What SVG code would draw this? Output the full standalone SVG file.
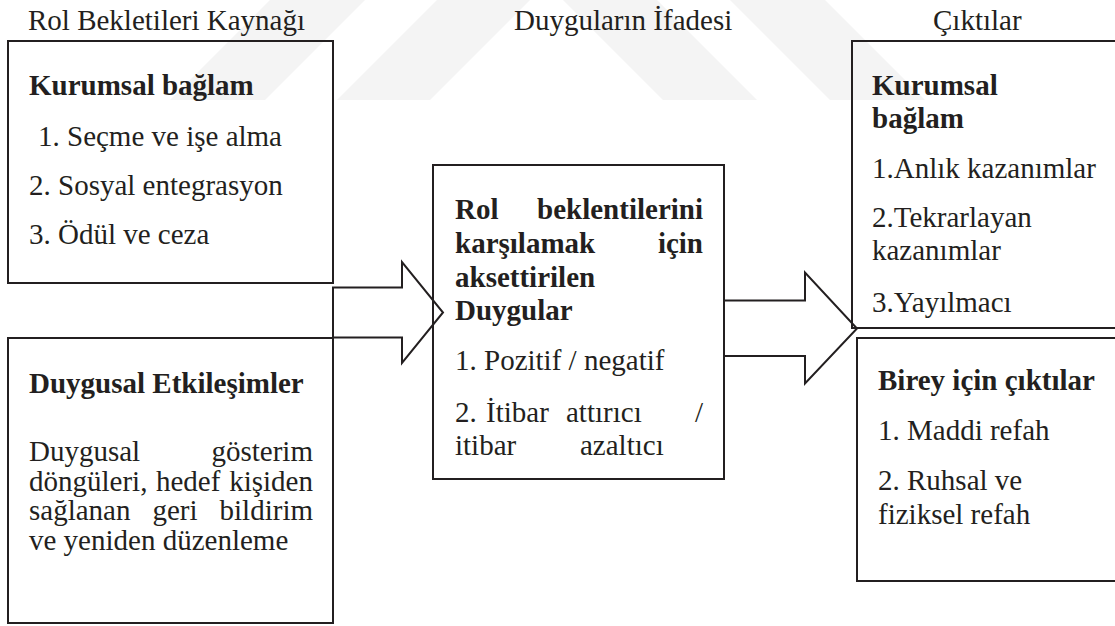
<svg xmlns="http://www.w3.org/2000/svg" width="1115" height="626" viewBox="0 0 1115 626" font-family="'Liberation Serif', 'Times New Roman', Times, serif">
  <style>
    text { font-family: 'Liberation Serif', 'Times New Roman', Times, serif; font-size: 29px; fill: #231f20; }
    .b { font-weight: bold; }
    .box { fill: none; stroke: #231f20; stroke-width: 2; }
    .arrow { fill: none; stroke: #231f20; stroke-width: 2; stroke-linejoin: miter; }
    .wm { fill: #f4f4f4; }
  </style>
  <rect width="1115" height="626" fill="#ffffff"/>
  <g id="watermark">
    <polygon class="wm" points="170,100 265,100 365,0 270,0"/>
    <polygon class="wm" points="337,100 430,100 530,0 437,0"/>
    <polygon class="wm" points="663,100 757,100 657,0 563,0"/>
    <polygon class="wm" points="830,100 925,100 825,0 730,0"/>
  </g>
  <g id="headers">
    <text x="28" y="29.5">Rol Bekletileri Kaynağı</text>
    <text x="514" y="29.5">Duyguların İfadesi</text>
    <text x="933" y="29.5">Çıktılar</text>
  </g>
  <g id="connectors">
    <polygon class="arrow" points="333,287.5 402,287.5 402,262 443,312.5 402,363 402,337.5 333,337.5"/>
    <polygon class="arrow" points="724,300.5 805,300.5 805,272.5 857,328.5 805,383.5 805,356 724,356"/>
  </g>
  <g id="node-kurumsal-baglam">
    <rect class="box" x="8" y="41" width="325" height="242"/>
    <text class="b" x="29" y="95">Kurumsal bağlam</text>
    <text x="38" y="145.5">1. Seçme ve işe alma</text>
    <text x="29" y="195">2. Sosyal entegrasyon</text>
    <text x="29" y="244">3. Ödül ve ceza</text>
  </g>
  <g id="node-duygusal-etkilesimler">
    <rect class="box" x="8" y="338" width="325" height="285"/>
    <text class="b" x="29" y="392.5">Duygusal Etkileşimler</text>
    <text x="29" y="461">Duygusal</text>
    <text x="313" y="461" text-anchor="end">gösterim</text>
    <text x="29" y="490.5">döngüleri,</text>
    <text x="156" y="490.5">hedef</text>
    <text x="313" y="490.5" text-anchor="end">kişiden</text>
    <text x="29" y="520">sağlanan</text>
    <text x="152.5" y="520">geri</text>
    <text x="313" y="520" text-anchor="end">bildirim</text>
    <text x="29" y="549.5">ve yeniden düzenleme</text>
  </g>
  <g id="node-duygular">
    <rect class="box" x="433" y="165" width="291" height="314"/>
    <text class="b" x="455" y="219">Rol</text>
    <text class="b" x="703" y="219" text-anchor="end">beklentilerini</text>
    <text class="b" x="455" y="253">karşılamak</text>
    <text class="b" x="703" y="253" text-anchor="end">için</text>
    <text class="b" x="455" y="287">aksettirilen</text>
    <text class="b" x="455" y="320">Duygular</text>
    <text x="455" y="369.5">1. Pozitif / negatif</text>
    <text x="455" y="422">2.</text>
    <text x="486" y="422">İtibar</text>
    <text x="566" y="422">attırıcı</text>
    <text x="703" y="422" text-anchor="end">/</text>
    <text x="455" y="455">itibar</text>
    <text x="580" y="455">azaltıcı</text>
  </g>
  <g id="node-kurumsal-ciktilar">
    <polyline class="box" points="1117,41 852,41 852,328 1117,328"/>
    <text class="b" x="872" y="95">Kurumsal</text>
    <text class="b" x="872" y="128">bağlam</text>
    <text x="872" y="178">1.Anlık kazanımlar</text>
    <text x="872" y="227">2.Tekrarlayan</text>
    <text x="872" y="260">kazanımlar</text>
    <text x="872" y="312">3.Yayılmacı</text>
  </g>
  <g id="node-birey-ciktilar">
    <polyline class="box" points="1117,338 857,338 857,581 1117,581"/>
    <text class="b" x="878" y="390">Birey için çıktılar</text>
    <text x="878" y="440">1. Maddi refah</text>
    <text x="878" y="490">2. Ruhsal ve</text>
    <text x="878" y="524">fiziksel refah</text>
  </g>
</svg>
